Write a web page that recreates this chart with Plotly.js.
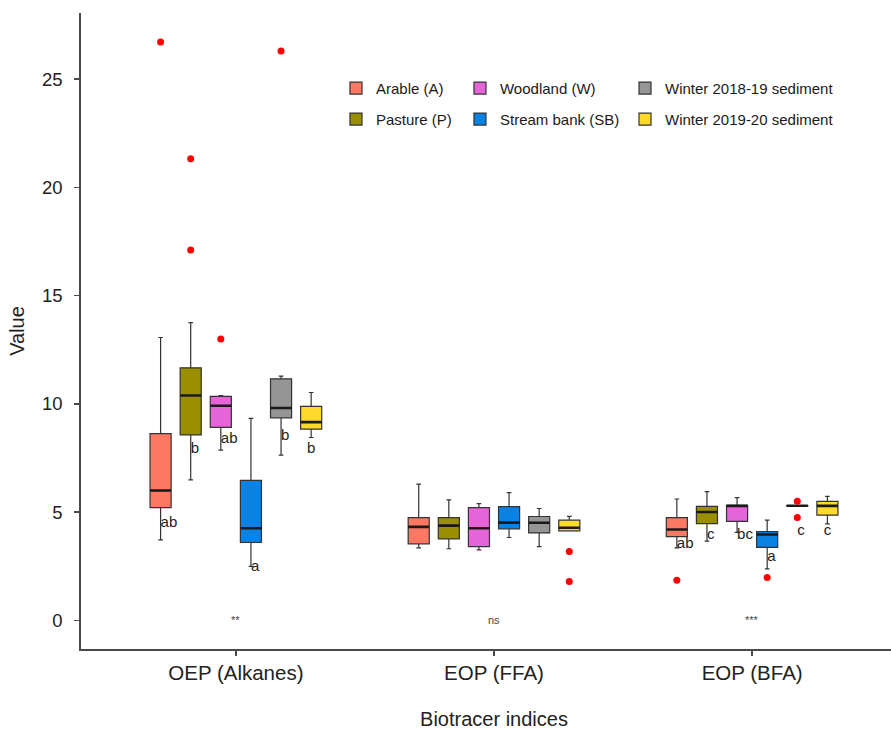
<!DOCTYPE html>
<html>
<head>
<meta charset="utf-8">
<script src="https://cdn.plot.ly/plotly-3.0.1.min.js"></script>
<style>
html, body { margin:0; padding:0; overflow:hidden; background:#fff; }
#chart { width:907px; height:731px; }
</style>
</head>
<body>
<div id="chart"></div>
<script>
// ---------------- DATA ----------------
const categories = ["OEP (Alkanes)", "EOP (FFA)", "EOP (BFA)"];
const seriesNames = ["Arable (A)", "Pasture (P)", "Woodland (W)", "Stream bank (SB)",
                     "Winter 2018-19 sediment", "Winter 2019-20 sediment"];

// box statistics per series: [OEP, FFA, BFA]
const arableLower = [3.72, 3.35, 3.35];
const arableQ1    = [5.21, 3.54, 3.87];
const arableMed   = [6.00, 4.32, 4.20];
const arableQ3    = [8.63, 4.75, 4.75];
const arableUpper = [13.07, 6.30, 5.61];

const pastureLower = [6.49, 3.31, 3.66];
const pastureQ1    = [8.57, 3.77, 4.47];
const pastureMed   = [10.39, 4.38, 5.01];
const pastureQ3    = [11.67, 4.75, 5.27];
const pastureUpper = [13.76, 5.57, 5.95];

const woodlandLower = [7.87, 3.26, 4.07];
const woodlandQ1    = [8.92, 3.41, 4.58];
const woodlandMed   = [9.92, 4.26, 5.29];
const woodlandQ3    = [10.35, 5.21, 5.32];
const woodlandUpper = [10.39, 5.40, 5.67];

const streamLower = [2.50, 3.83, 2.38];
const streamQ1    = [3.60, 4.23, 3.37];
const streamMed   = [4.26, 4.52, 3.97];
const streamQ3    = [6.47, 5.26, 4.10];
const streamUpper = [9.33, 5.90, 4.63];

const winter1819Lower = [7.64, 3.41, 5.29];
const winter1819Q1    = [9.36, 4.04, 5.29];
const winter1819Med   = [9.81, 4.51, 5.30];
const winter1819Q3    = [11.16, 4.80, 5.31];
const winter1819Upper = [11.29, 5.17, 5.31];

const winter1920Lower = [8.45, 4.14, 4.46];
const winter1920Q1    = [8.84, 4.14, 4.86];
const winter1920Med   = [9.16, 4.28, 5.29];
const winter1920Q3    = [9.89, 4.63, 5.50];
const winter1920Upper = [10.53, 4.81, 5.73];

// outliers (category, value)
const arableOutX = ["OEP (Alkanes)", "EOP (BFA)"];
const arableOutY = [26.72, 1.86];
const pastureOutX = ["OEP (Alkanes)", "OEP (Alkanes)"];
const pastureOutY = [21.33, 17.11];
const woodlandOutX = ["OEP (Alkanes)"];
const woodlandOutY = [13.0];
const streamOutX = ["EOP (BFA)"];
const streamOutY = [1.98];
const winter1819OutX = ["OEP (Alkanes)", "EOP (BFA)", "EOP (BFA)"];
const winter1819OutY = [26.30, 5.50, 4.76];
const winter1920OutX = ["EOP (FFA)", "EOP (FFA)"];
const winter1920OutY = [3.18, 1.80];

// letter labels (OEP, BFA)
const letterX = ["OEP (Alkanes)", "EOP (BFA)"];
const arableLetters = ["ab", "ab"];      const arableLetterY = [4.47, 3.54];
const pastureLetters = ["b", "c"];       const pastureLetterY = [7.93, 3.92];
const woodlandLetters = ["ab", "bc"];    const woodlandLetterY = [8.35, 3.92];
const streamLetters = ["a", "a"];        const streamLetterY = [2.46, 2.94];
const winter1819Letters = ["b", "c"];    const winter1819LetterY = [8.49, 4.12];
const winter1920Letters = ["b", "c"];    const winter1920LetterY = [7.93, 4.12];

const sigLabels = ["**", "ns", "***"];
const sigY = [0, 0, 0];

// ---------------- STYLE ----------------
const FONT = "Liberation Sans, Arial, sans-serif";
const colors = ["#FF7864", "#998F00", "#E565D8", "#0A82E4", "#959595", "#FFD92B"];
const legendRank = [1, 2, 3, 4, 5, 6];
const legendX = [0.3087, 0.3087, 0.4588, 0.4588, 0.6586, 0.6586];
const legendY = [0.8816, 0.8329, 0.8816, 0.8329, 0.8816, 0.8329];

const stats = [
  [arableLower, arableQ1, arableMed, arableQ3, arableUpper],
  [pastureLower, pastureQ1, pastureMed, pastureQ3, pastureUpper],
  [woodlandLower, woodlandQ1, woodlandMed, woodlandQ3, woodlandUpper],
  [streamLower, streamQ1, streamMed, streamQ3, streamUpper],
  [winter1819Lower, winter1819Q1, winter1819Med, winter1819Q3, winter1819Upper],
  [winter1920Lower, winter1920Q1, winter1920Med, winter1920Q3, winter1920Upper]
];
const outliers = [
  [arableOutX, arableOutY], [pastureOutX, pastureOutY], [woodlandOutX, woodlandOutY],
  [streamOutX, streamOutY], [winter1819OutX, winter1819OutY], [winter1920OutX, winter1920OutY]
];
const letters = [
  [arableLetters, arableLetterY], [pastureLetters, pastureLetterY], [woodlandLetters, woodlandLetterY],
  [streamLetters, streamLetterY], [winter1819Letters, winter1819LetterY], [winter1920Letters, winter1920LetterY]
];
const letterPos = ["middle right", "middle right", "middle right", "middle right", "middle right", "middle center"];

const traces = [];
const layoutLegends = {};
seriesNames.forEach((name, i) => {
  const [lo, q1, med, q3, up] = stats[i];
  const lg = i === 0 ? "legend" : "legend" + (i + 1);
  traces.push({
    type: "box", name: name, x: categories,
    lowerfence: lo, q1: q1, median: med, q3: q3, upperfence: up,
    offsetgroup: "g" + i, alignmentgroup: "a",
    fillcolor: colors[i], line: { color: "#333333", width: 1.2 },
    whiskerwidth: 0.22, boxpoints: false, hoverinfo: "skip",
    legend: lg, legendrank: legendRank[i]
  });
  layoutLegends[lg] = {
    x: legendX[i], y: legendY[i], xanchor: "left", yanchor: "middle",
    bgcolor: "rgba(0,0,0,0)", borderwidth: 0,
    font: { family: FONT, size: 15, color: "#1a1a1a" }
  };
});
// thick median overlays
seriesNames.forEach((name, i) => {
  const med = stats[i][2];
  traces.push({
    type: "box", name: name + " median", x: categories,
    lowerfence: med, q1: med, median: med, q3: med, upperfence: med,
    offsetgroup: "g" + i, alignmentgroup: "a",
    fillcolor: "rgba(0,0,0,0)", line: { color: "#1a1a1a", width: 2.6 },
    whiskerwidth: 0, boxpoints: false, showlegend: false, hoverinfo: "skip"
  });
});
// outliers
seriesNames.forEach((name, i) => {
  traces.push({
    type: "scatter", mode: "markers", x: outliers[i][0], y: outliers[i][1],
    orientation: "v", offsetgroup: "g" + i, alignmentgroup: "a",
    marker: { color: "#FF0000", size: 7 }, showlegend: false, hoverinfo: "skip",
    cliponaxis: false
  });
});
// letters
seriesNames.forEach((name, i) => {
  traces.push({
    type: "scatter", mode: "text", x: letterX, y: letters[i][1], text: letters[i][0],
    textposition: letterPos[i], orientation: "v", offsetgroup: "g" + i, alignmentgroup: "a",
    textfont: { family: FONT, size: 15, color: "#222222" }, showlegend: false, hoverinfo: "skip",
    cliponaxis: false
  });
});

const annotations = categories.map((c, i) => ({
  x: c, y: sigY[i], text: sigLabels[i], showarrow: false, xref: "x", yref: "y",
  font: { family: FONT, size: 11, color: "#444444" }
}));

const layout = Object.assign({
  width: 907, height: 731,
  margin: { l: 81, r: 0, t: 13, b: 82 },
  paper_bgcolor: "#ffffff", plot_bgcolor: "#ffffff",
  font: { family: FONT, color: "#222222" },
  boxmode: "group", boxgap: 0.3, boxgroupgap: 0.3,
  scattermode: "group", scattergap: 0.3,
  xaxis: {
    type: "category", categoryorder: "array", categoryarray: categories,
    range: [-0.6, 2.6], showgrid: false, zeroline: false,
    showline: true, linecolor: "#4a4a4a", linewidth: 1.8,
    ticks: "outside", ticklen: 5, tickwidth: 1.5, tickcolor: "#4a4a4a",
    tickfont: { family: FONT, size: 20.5, color: "#222222" },
    title: { text: "Biotracer indices", font: { family: FONT, size: 20, color: "#222222" }, standoff: 28 }
  },
  yaxis: {
    range: [-1.32, 28.06], showgrid: false, zeroline: false,
    tickvals: [0, 5, 10, 15, 20, 25],
    showline: true, linecolor: "#4a4a4a", linewidth: 1.8,
    ticks: "outside", ticklen: 5, tickwidth: 1.5, tickcolor: "#4a4a4a",
    ticklabelstandoff: 8,
    tickfont: { family: FONT, size: 18.5, color: "#222222" },
    title: { text: "Value", font: { family: FONT, size: 20, color: "#222222" }, standoff: 12 }
  },
  annotations: annotations,
  showlegend: true
}, layoutLegends);

Plotly.newPlot("chart", traces, layout, { displayModeBar: false, staticPlot: true });
</script>
</body>
</html>
